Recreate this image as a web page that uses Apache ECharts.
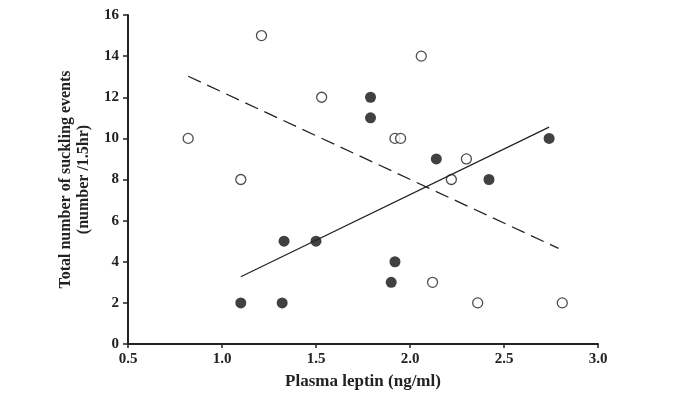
<!DOCTYPE html>
<html><head><meta charset="utf-8">
<script src="https://cdn.jsdelivr.net/npm/echarts@6/dist/echarts.min.js"></script>
<style>html,body{margin:0;padding:0;background:#fff}#c{width:675px;height:400px}</style>
</head><body><div id="c"></div>
<script>
// Filled circles
const filledX = [1.10, 1.32, 1.33, 1.50, 1.79, 1.79, 1.90, 1.92, 2.14, 2.42, 2.74];
const filledY = [2, 2, 5, 5, 12, 11, 3, 4, 9, 8, 10];
// Open circles
const openX = [0.82, 1.10, 1.21, 1.53, 1.92, 1.95, 2.06, 2.12, 2.22, 2.30, 2.36, 2.81];
const openY = [10, 8, 15, 12, 10, 10, 14, 3, 8, 9, 2, 2];
// Regression lines (endpoints)
const solidLineX = [1.10, 2.74];
const solidLineY = [3.27, 10.55];
const dashLineX = [0.82, 2.79];
const dashLineY = [13.02, 4.65];
const xTicks = ['0.5','1.0','1.5','2.0','2.5','3.0'];

const zip = (a, b) => a.map((v, i) => [v, b[i]]);
const font = 'Liberation Serif, Times New Roman, serif';

const chart = echarts.init(document.getElementById('c'), null, {renderer: 'canvas'});
chart.setOption({
  animation: false,
  backgroundColor: '#fff',
  grid: {left: 128, right: 77, top: 15, bottom: 56, containLabel: false},
  xAxis: {
    type: 'value', min: 0.5, max: 3.0, interval: 0.5,
    name: 'Plasma leptin (ng/ml)', nameLocation: 'middle', nameGap: 29,
    nameTextStyle: {fontFamily: font, fontWeight: 'bold', fontSize: 17, color: '#222'},
    axisLine: {show: true, onZero: false, lineStyle: {color: '#222', width: 2}},
    axisTick: {show: true, inside: false, length: 4, lineStyle: {color: '#222', width: 1.5}},
    axisLabel: {fontFamily: font, fontWeight: 'bold', fontSize: 15, color: '#222', margin: 8,
      formatter: v => xTicks[Math.round((v - 0.5) / 0.5)]},
    splitLine: {show: false}
  },
  yAxis: {
    type: 'value', min: 0, max: 16, interval: 2,
    name: 'Total number of suckling events\n(number /1.5hr)', nameLocation: 'middle', nameGap: 34,
    nameTextStyle: {fontFamily: font, fontWeight: 'bold', fontSize: 16, color: '#222', lineHeight: 18},
    axisLine: {show: true, onZero: false, lineStyle: {color: '#222', width: 2}},
    axisTick: {show: true, inside: false, length: 5, lineStyle: {color: '#222', width: 1.5}},
    axisLabel: {fontFamily: font, fontWeight: 'bold', fontSize: 15, color: '#222', margin: 9},
    splitLine: {show: false}
  },
  series: [
    {type: 'line', data: zip(dashLineX, dashLineY), symbol: 'none',
      lineStyle: {color: '#222', width: 1.3, type: [14, 7]}},
    {type: 'line', data: zip(solidLineX, solidLineY), symbol: 'none',
      lineStyle: {color: '#222', width: 1.3}},
    {type: 'scatter', data: zip(openX, openY), symbol: 'circle', symbolSize: 10,
      itemStyle: {color: '#fff', borderColor: '#222', borderWidth: 1.3}},
    {type: 'scatter', data: zip(filledX, filledY), symbol: 'circle', symbolSize: 11,
      itemStyle: {color: '#111'}}
  ]
});
</script></body></html>
